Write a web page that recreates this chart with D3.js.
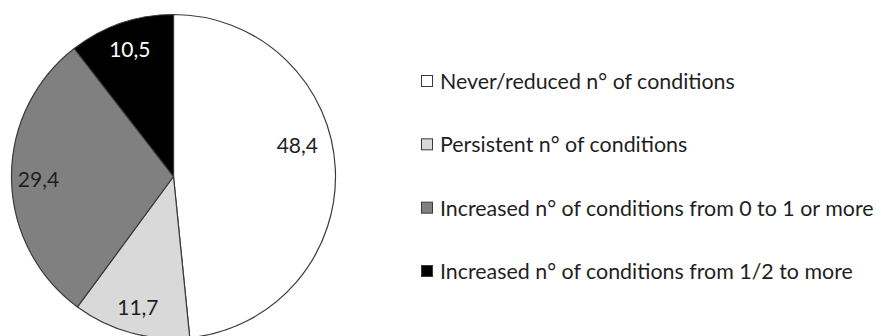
<!DOCTYPE html>
<html>
<head>
<meta charset="utf-8">
<script src="https://cdn.jsdelivr.net/npm/d3@7"></script>
<style>
  html, body { margin: 0; padding: 0; background: #fff; }
  svg { display: block; }
</style>
</head>
<body>
<svg id="chart" width="881" height="336"></svg>
<script>
// Share of subjects by change in number of conditions (%)
const categories = [
  "Never/reduced n° of conditions",
  "Persistent n° of conditions",
  "Increased n° of conditions from 0 to 1 or more",
  "Increased n° of conditions from 1/2 to more"
];
const values = [48.4, 11.7, 29.4, 10.5];
const valueLabels = ["48,4", "11,7", "29,4", "10,5"];

const fills = ["#ffffff", "#d9d9d9", "#808080", "#000000"];
const labelColors = ["#1f1f1f", "#1f1f1f", "#1f1f1f", "#ffffff"];

const W = 881, H = 336;
const cx = 173.5, cy = 176.5, R = 162;
const labelR = 135;
const FONT = "Lato, 'Open Sans', sans-serif";

const svg = d3.select("#chart");

const pie = d3.pie().sort(null).value(d => d.value);
const data = pie(values.map((v, i) => ({ value: v, i })));

const arc = d3.arc().innerRadius(0).outerRadius(R);
const labelArc = d3.arc().innerRadius(labelR).outerRadius(labelR);

const g = svg.append("g").attr("transform", `translate(${cx},${cy})`);

g.selectAll("path.slice")
  .data(data)
  .join("path")
  .attr("class", "slice")
  .attr("d", arc)
  .attr("fill", d => fills[d.data.i])
  .attr("stroke", "#3a3a3a")
  .attr("stroke-width", 1.2)
  .attr("stroke-linejoin", "round");

// The big right-hand slice label sits a little higher/inwards than its centroid
const labelNudge = [[-11, -25], [0, 0], [0, 0], [0, 0]];

g.selectAll("text.val")
  .data(data)
  .join("text")
  .attr("class", "val")
  .attr("x", d => labelArc.centroid(d)[0] + labelNudge[d.data.i][0])
  .attr("y", d => labelArc.centroid(d)[1] + labelNudge[d.data.i][1])
  .attr("text-anchor", "middle")
  .attr("dominant-baseline", "central")
  .attr("font-family", FONT)
  .attr("font-size", 21)
  .attr("fill", d => labelColors[d.data.i])
  .text(d => valueLabels[d.data.i]);

// Legend
const legendY = d3.scalePoint().domain(d3.range(categories.length)).range([81, 271]);
const lg = svg.append("g");
const items = lg.selectAll("g.item")
  .data(categories)
  .join("g")
  .attr("class", "item")
  .attr("transform", (d, i) => `translate(421,${legendY(i)})`);

items.append("rect")
  .attr("x", 0.5).attr("y", -5.5)
  .attr("width", 11).attr("height", 11)
  .attr("fill", (d, i) => fills[i])
  .attr("stroke", "#3a3a3a")
  .attr("stroke-width", 1);

items.append("text")
  .attr("x", 19)
  .attr("y", 0)
  .attr("dominant-baseline", "central")
  .attr("font-family", FONT)
  .attr("font-size", 21.4)
  .attr("fill", "#1f1f1f")
  .text(d => d);
</script>
</body>
</html>
